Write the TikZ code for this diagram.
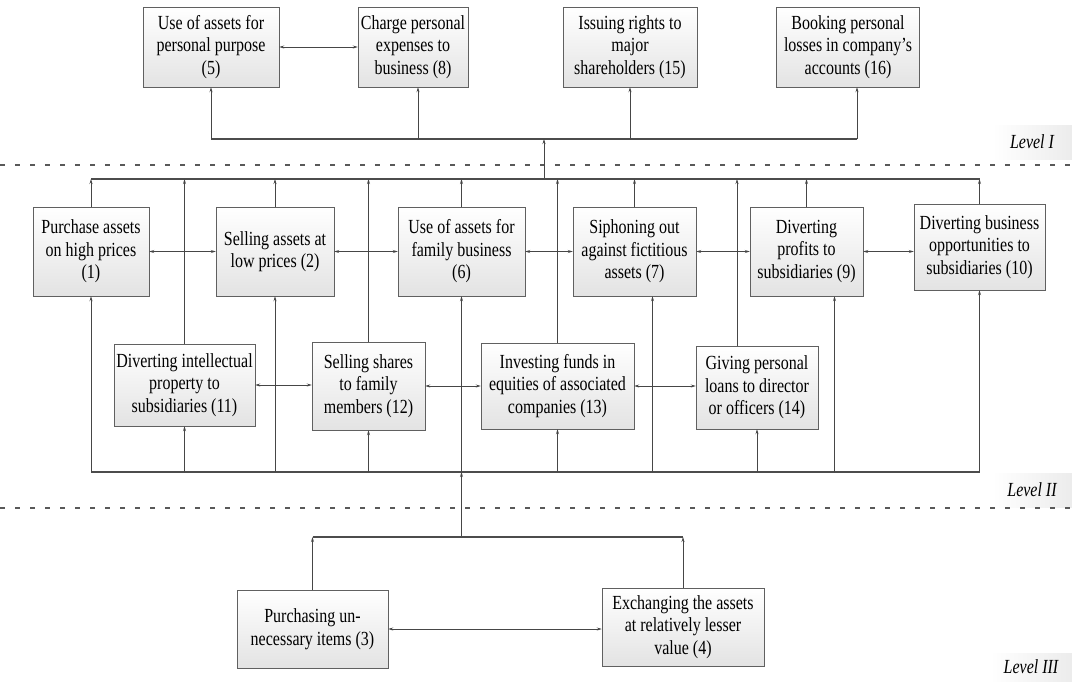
\documentclass[tikz,border=0pt]{standalone}
\usepackage{xcolor}
\usepackage{fontspec}
\setmainfont{Liberation Serif}[FakeStretch=0.8]
\usepackage{tikz}
\usetikzlibrary{arrows.meta}

\begin{document}
\begin{tikzpicture}[x=1pt, y=-1pt,
    font=\fontsize{20}{22.5}\selectfont,
    box/.style={rectangle, draw=gray!75!black, top color=white, bottom color=gray!22, align=center, inner sep=2pt},
    bus/.style={draw=gray!60!black, line width=1.4pt},
    link/.style={draw=gray!55!black, line width=0.9pt, -{Stealth[length=5pt,width=3pt]}},
    duo/.style={draw=gray!55!black, line width=0.9pt, {Stealth[length=5pt,width=3pt]}-{Stealth[length=5pt,width=3pt]}},
    lvlbox/.style={left color=white, right color=gray!15, font=\fontsize{20}{22.5}\selectfont\itshape, inner sep=0pt},
    divider/.style={draw=gray!70!black, line width=1.8pt, dash pattern=on 5pt off 10pt}
    ]
    \useasboundingbox (0,0) rectangle (1072,681);

    \node[box, minimum width=136, minimum height=80] (b5) at (211,47) {Use of assets for\\personal purpose\\(5)};
    \node[box, minimum width=110, minimum height=80] (b8) at (413,47) {Charge personal\\expenses to\\business (8)};
    \node[box, minimum width=134, minimum height=80] (b15) at (630,47) {Issuing rights to\\major\\shareholders (15)};
    \node[box, minimum width=143, minimum height=80] (b16) at (848,47) {Booking personal\\losses in company’s\\accounts (16)};
    \node[lvlbox, minimum width=80, minimum height=34] (l1) at (1032,142) {Level I};

    \node[box, minimum width=116, minimum height=89] (b1) at (91,251.5) {Purchase assets\\on high prices\\(1)};
    \node[box, minimum width=118, minimum height=89] (b2) at (275,251.5) {Selling assets at\\low prices (2)};
    \node[box, minimum width=127, minimum height=89] (b6) at (461.5,251.5) {Use of assets for\\family business\\(6)};
    \node[box, minimum width=123, minimum height=89] (b7) at (634.5,251.5) {Siphoning out\\against fictitious\\assets (7)};
    \node[box, minimum width=113, minimum height=89] (b9) at (806.5,251.5) {Diverting\\profits to\\subsidiaries (9)};
    \node[box, minimum width=131, minimum height=86] (b10) at (979.5,247) {Diverting business\\opportunities to\\subsidiaries (10)};
    \node[box, minimum width=141, minimum height=82] (b11) at (184.5,385) {Diverting intellectual\\property to\\subsidiaries (11)};
    \node[box, minimum width=113, minimum height=88] (b12) at (368.5,386) {Selling shares\\to family\\members (12)};
    \node[box, minimum width=153, minimum height=86] (b13) at (557.5,386) {Investing funds in\\equities of associated\\companies (13)};
    \node[box, minimum width=122, minimum height=83] (b14) at (757,387.5) {Giving personal\\loans to director\\or officers (14)};
    \node[lvlbox, minimum width=80, minimum height=34] (l2) at (1032,490) {Level II};

    \node[box, minimum width=151, minimum height=78] (b3) at (312.5,629) {Purchasing un-\\necessary items (3)};
    \node[box, minimum width=162, minimum height=78] (b4) at (683,627) {Exchanging the assets\\at relatively lesser\\value (4)};
    \node[lvlbox, minimum width=82, minimum height=28] (l3) at (1031,667) {Level III};

    \draw[divider] (0,165) -- (1072,165);
    \draw[divider] (0,508) -- (1072,508);

    \coordinate (busI) at (544,139);
    \coordinate (busIIa) at (544,179);
    \coordinate (busIIb) at (461.5,472);
    \coordinate (busIII) at (461.5,537);
    \coordinate (s8) at ([xshift=5]b8.south);
    \coordinate (s16) at ([xshift=9]b16.south);
    \coordinate (n14) at ([xshift=-20]b14.north);
    \coordinate (s7) at ([xshift=18]b7.south);
    \coordinate (s9) at ([xshift=28]b9.south);

    \draw[bus] (b5 |- busI) -- (s16 |- busI);
    \draw[link] (b5 |- busI) -- (b5);
    \draw[link] (s8 |- busI) -- (s8);
    \draw[link] (b15 |- busI) -- (b15);
    \draw[link] (s16 |- busI) -- (s16);
    \draw[duo] (b5) -- (b8);
    \draw[link] (busIIa) -- (busI);

    \draw[bus] (b1 |- busIIa) -- (b10 |- busIIa);
    \draw[link] (b1) -- (b1 |- busIIa);
    \draw[link] (b11) -- (b11 |- busIIa);
    \draw[link] (b2) -- (b2 |- busIIa);
    \draw[link] (b12) -- (b12 |- busIIa);
    \draw[link] (b6) -- (b6 |- busIIa);
    \draw[link] (b13) -- (b13 |- busIIa);
    \draw[link] (b7) -- (b7 |- busIIa);
    \draw[link] (n14) -- (n14 |- busIIa);
    \draw[link] (b9) -- (b9 |- busIIa);
    \draw[link] (b10) -- (b10 |- busIIa);

    \draw[duo] (b1) -- (b2);
    \draw[duo] (b2) -- (b6);
    \draw[duo] (b6) -- (b7);
    \draw[duo] (b7) -- (b9);
    \draw[duo] (b9.east) -- (b9.east -| b10.west);
    \draw[duo] (b11.east) -- (b11.east -| b12.west);
    \draw[duo] (b12.east) -- (b12.east -| b13.west);
    \draw[duo] (b13.east) -- (b13.east -| b14.west);

    \draw[bus] (b1 |- busIIb) -- (b10 |- busIIb);
    \draw[link] (b1 |- busIIb) -- (b1);
    \draw[link] (b11 |- busIIb) -- (b11);
    \draw[link] (b2 |- busIIb) -- (b2);
    \draw[link] (b12 |- busIIb) -- (b12);
    \draw[link] (b6 |- busIIb) -- (b6);
    \draw[link] (b13 |- busIIb) -- (b13);
    \draw[link] (s7 |- busIIb) -- (s7);
    \draw[link] (b14 |- busIIb) -- (b14);
    \draw[link] (s9 |- busIIb) -- (s9);
    \draw[link] (b10 |- busIIb) -- (b10);
    \draw[link] (busIII) -- (busIIb);

    \draw[bus] (b3 |- busIII) -- (b4 |- busIII);
    \draw[link] (b3) -- (b3 |- busIII);
    \draw[link] (b4) -- (b4 |- busIII);
    \draw[duo] (b3.east) -- (b3.east -| b4.west);
  \end{tikzpicture}
\end{document}
